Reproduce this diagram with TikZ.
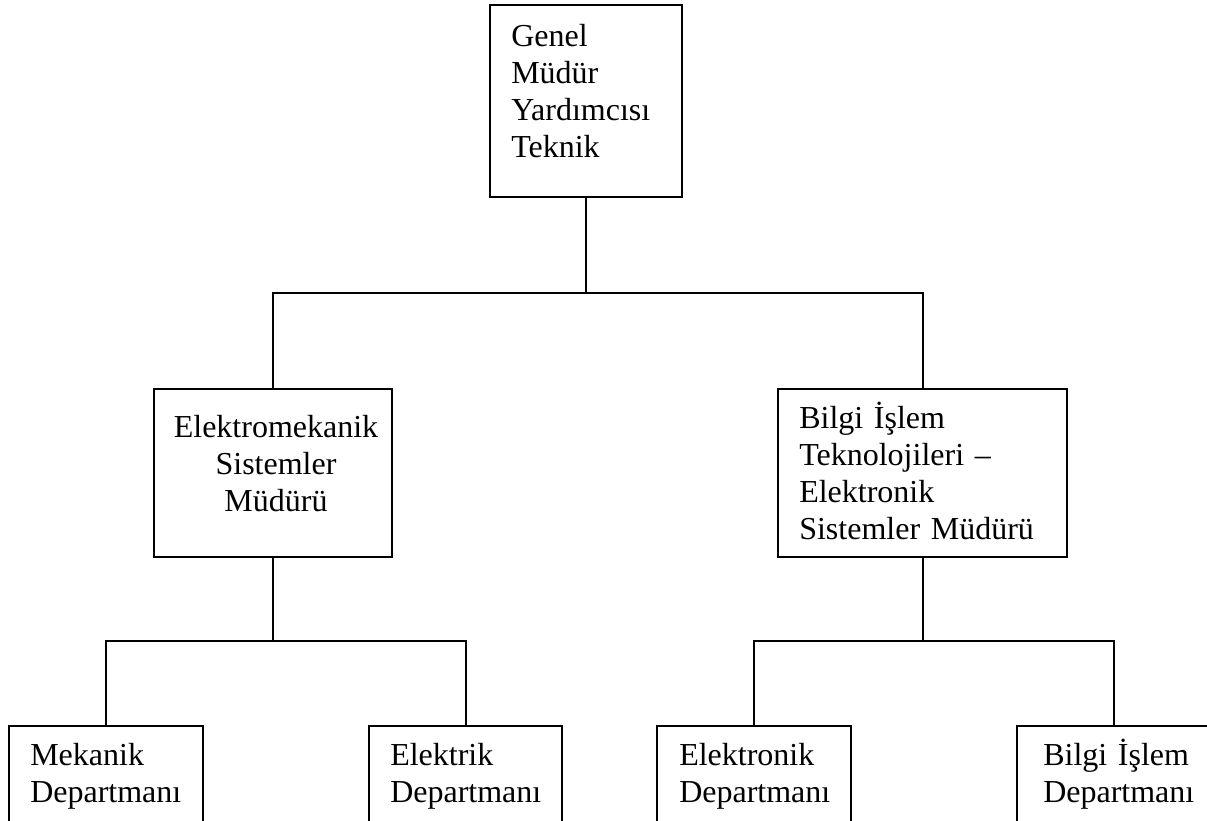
\documentclass[tikz,border=0pt]{standalone}
\usepackage{fontspec}
\setmainfont{Liberation Serif}
\usetikzlibrary{fit}
\tikzset{
  box/.style={draw, line width=1.5pt, inner sep=0pt},
  conn/.style={draw, line width=1.5pt},
  lbl/.style={anchor=base west, inner sep=0pt, text width=300pt, align=left,
              font=\fontsize{24}{27.9}\selectfont},
  clbl/.style={anchor=base, inner sep=0pt, text width=230pt, align=center,
              font=\fontsize{24}{27.9}\selectfont}
}
\begin{document}
\begin{tikzpicture}[x=0.75pt,y=-0.75pt]
\useasboundingbox (0,0) rectangle (1207,821);
% boxes
\node[box, fit={(490,5)(682,197)}] (top) {};
\node[box, fit={(154,389)(392,557)}] (ml) {};
\node[box, fit={(778,389)(1067,557)}] (mr) {};
\node[box, fit={(9,726)(203,830)}] (b1) {};
\node[box, fit={(369,726)(562,830)}] (b2) {};
\node[box, fit={(657,726)(851,830)}] (b3) {};
\node[box, fit={(1017,726)(1211,830)}] (b4) {};
% texts
\node[lbl] (ttop) at (511,46) {Genel\\Müdür\\Yardımcısı\\Teknik};
\node[clbl] (tml) at (276,437) {Elektromekanik\\Sistemler\\Müdürü};
\node[lbl] (tmr) at (799,428) {Bilgi İşlem\\Teknolojileri –\\Elektronik\\Sistemler Müdürü};
\node[lbl] (tb1) at (30,765) {Mekanik\\Departmanı};
\node[lbl] (tb2) at (390,765) {Elektrik\\Departmanı};
\node[lbl] (tb3) at (679,765) {Elektronik\\Departmanı};
\node[lbl] (tb4) at (1043,765) {Bilgi İşlem\\Departmanı};
% junctions
\coordinate (j1) at (top.south |- 0,293);
\coordinate (j2) at (ml.south |- 0,641);
\coordinate (j3) at (mr.south |- 0,641);
% connectors
\path[conn] (top.south) -- (j1);
\path[conn] (ml.north) |- (j1) -| (mr.north);
\path[conn] (ml.south) -- (j2);
\path[conn] (b1.north) |- (j2) -| (b2.north);
\path[conn] (mr.south) -- (j3);
\path[conn] (b3.north) |- (j3) -| (b4.north);
\end{tikzpicture}
\end{document}
